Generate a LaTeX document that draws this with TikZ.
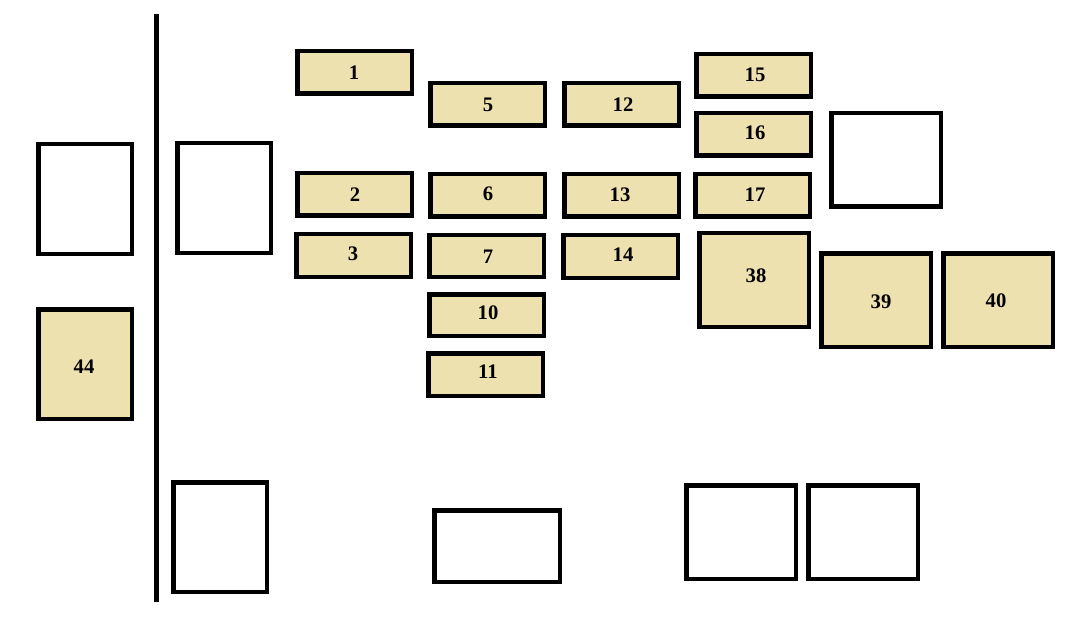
\documentclass[tikz,border=0pt]{standalone}
\usepackage{fontspec}
\setmainfont{Liberation Serif}
\definecolor{fusefill}{RGB}{238,225,176}
\tikzset{
  fusebox/.style={draw=black, line width=3.375pt, fill=fusefill, inner sep=0pt, outer sep=0pt},
  relaybox/.style={draw=black, line width=3.375pt, fill=white, inner sep=0pt, outer sep=0pt},
  lbl/.style={font=\fontsize{15.5}{16}\selectfont\bfseries, inner sep=0pt, text=black},
  bar/.style={line width=3.75pt, black}
}
% #1 name, #2 x1, #3 y1, #4 x2, #5 y2 (outer edges in px), #6 style
\newcommand\fbx[6]{\node[#6, minimum width={(#4-#2-4.5)*0.75pt}, minimum height={(#5-#3-4.5)*0.75pt}] (#1) at ({(#2+#4)/2},{(#3+#5)/2}) {};}
\begin{document}
\begin{tikzpicture}[x=0.75pt,y=-0.75pt]
\useasboundingbox (0,0) rectangle (1066,620);
\fill[white] (0,0) rectangle (1066,620);
% divider
\coordinate (bartop) at (156.5,14);
\coordinate (barbot) at (156.5,602);
\draw[bar] (bartop) -- (barbot);
% relays (white)
\fbx{rA}{36}{142}{134}{256}{relaybox}
\fbx{rB}{175}{141}{273}{255}{relaybox}
\fbx{rC}{171}{480}{269}{594}{relaybox}
\fbx{rD}{432}{508}{562}{584}{relaybox}
\fbx{rE}{684}{483}{798}{581}{relaybox}
\fbx{rF}{806}{483}{920}{581}{relaybox}
\fbx{rG}{829}{111}{943}{209}{relaybox}
% fuses
\fbx{f1}{295}{49}{414}{96}{fusebox}
\fbx{f2}{295}{171}{414}{218}{fusebox}
\fbx{f3}{294}{232}{413}{279}{fusebox}
\fbx{f5}{428}{81}{547}{128}{fusebox}
\fbx{f6}{428}{172}{547}{219}{fusebox}
\fbx{f7}{427}{233}{546}{279}{fusebox}
\fbx{f10}{427}{292}{546}{338}{fusebox}
\fbx{f11}{426}{351}{545}{398}{fusebox}
\fbx{f12}{562}{81}{681}{128}{fusebox}
\fbx{f13}{562}{172}{681}{219}{fusebox}
\fbx{f14}{561}{233}{680}{280}{fusebox}
\fbx{f15}{694}{52}{813}{99}{fusebox}
\fbx{f16}{694}{111}{813}{158}{fusebox}
\fbx{f17}{693}{172}{812}{219}{fusebox}
\fbx{f38}{697}{231}{811}{329}{fusebox}
\fbx{f39}{819}{251}{933}{349}{fusebox}
\fbx{f40}{941}{251}{1055}{349}{fusebox}
\fbx{f44}{36}{307}{134}{421}{fusebox}
% labels
\node[lbl] (t1) at (354,73) {1};
\node[lbl] (t2) at (355,195) {2};
\node[lbl] (t3) at (353,254) {3};
\node[lbl] (t5) at (488,105) {5};
\node[lbl] (t6) at (488,194) {6};
\node[lbl] (t7) at (488,257) {7};
\node[lbl] (t10) at (488,313) {10};
\node[lbl] (t11) at (488,372) {11};
\node[lbl] (t12) at (623,105) {12};
\node[lbl] (t13) at (620,195) {13};
\node[lbl] (t14) at (623,255) {14};
\node[lbl] (t15) at (755,75) {15};
\node[lbl] (t16) at (755,133) {16};
\node[lbl] (t17) at (755,195) {17};
\node[lbl] (t38) at (756,276) {38};
\node[lbl] (t39) at (881,302) {39};
\node[lbl] (t40) at (996,301) {40};
\node[lbl] (t44) at (84,367) {44};
\end{tikzpicture}
\end{document}
